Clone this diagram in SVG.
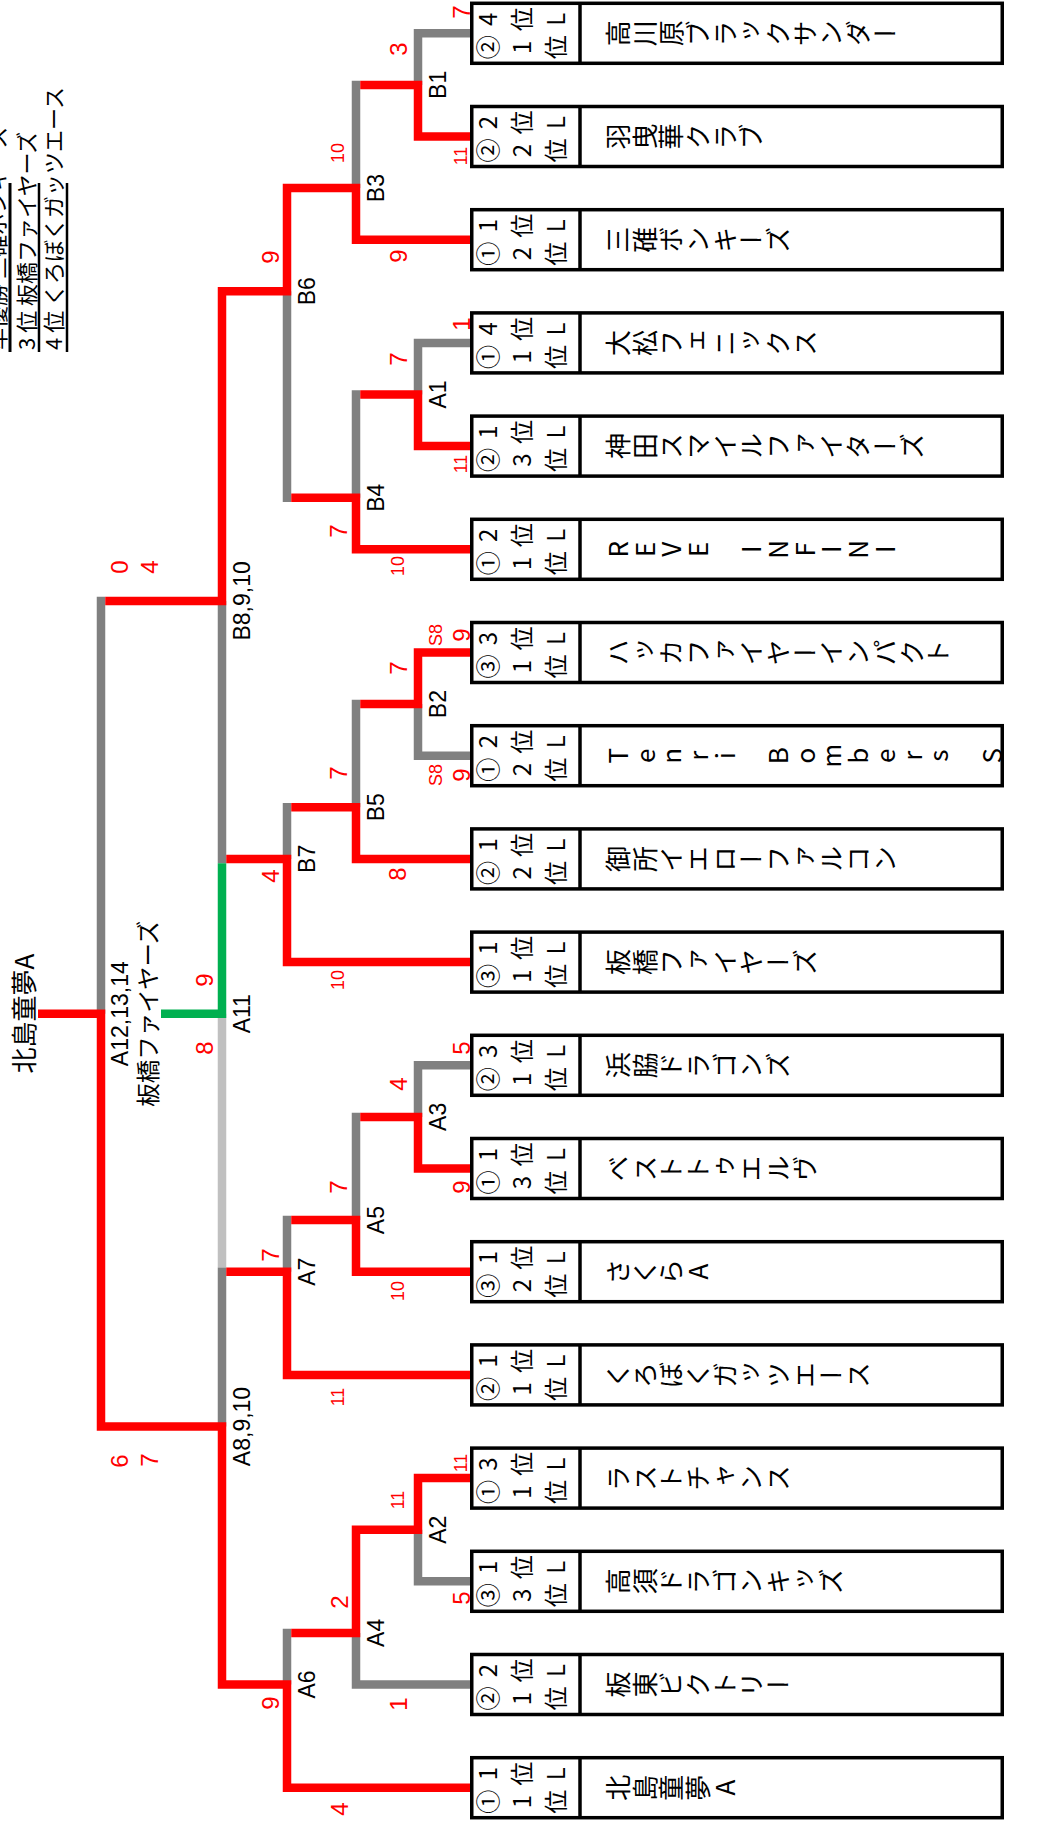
<svg xmlns="http://www.w3.org/2000/svg" width="1037" height="1827" viewBox="0 0 1037 1827">
<style>
.ln{fill:none;stroke-width:8.5;stroke-linecap:butt}
.r{stroke:#ff0000}.g{stroke:#808080}.lg{stroke:#c0c0c0}.gr{stroke:#00b050}
.bx{fill:#fff;stroke:#000;stroke-width:3.5}
.dv{stroke:#000;stroke-width:3.5}
.sd{font-family:"Noto Sans CJK JP",sans-serif;font-size:24px;letter-spacing:10px;writing-mode:vertical-rl;text-orientation:upright;fill:#000}
.nm{font-family:"Noto Sans CJK JP",sans-serif;font-size:26px;letter-spacing:0.7px;writing-mode:vertical-rl;text-orientation:upright;fill:#000}
.sc{font-family:"Liberation Sans",sans-serif;font-size:24px;fill:#ff0000;text-anchor:middle}
.sc2{font-family:"Liberation Sans",sans-serif;font-size:18px;fill:#ff0000;text-anchor:middle}
.lb{font-family:"Liberation Sans",sans-serif;font-size:23px;fill:#000;text-anchor:middle}
.jp{font-family:"Noto Sans CJK JP",sans-serif;fill:#000}
.lgl{stroke:#000;fill:none}
</style>

<g id="legend">
<line class="lgl" x1="10" y1="183" x2="10" y2="352" stroke-width="3"/>
<line class="lgl" x1="39" y1="183" x2="39" y2="352" stroke-width="2.5"/>
<line class="lgl" x1="67" y1="183" x2="67" y2="352" stroke-width="2.5"/>
<text class="jp" font-size="22" transform="translate(5 350) rotate(-90)">準優勝 三碓ボンキーズ</text>
<text class="jp" font-size="22" transform="translate(35 350) rotate(-90)">3 位 板橋ファイヤーズ</text>
<text class="jp" font-size="22" transform="translate(62 350) rotate(-90)">4 位 くろぼくガッツエース</text>
</g>

<g id="connectors">
<path class="ln lg" d="M222 1013.7V1267.45"/>
<path class="ln g" d="M418 29.05V84.9M418 338.65V394.5M418 704.1V759.95M418 1061.05V1116.9M418 1529.7V1585.55
M356 80.65V188.1M356 390.25V497.7M356 699.85V807.3M356 1112.65V1220.1M356 1632.9V1688.75
M287 291.3V501.95M287 803.05V858.9M287 1215.85V1271.7M287 1628.65V1684.5
M222 600.9V863.15M222 1267.45V1426.5M101 596.65V1013.7
M422.25 33.3H470M422.25 342.9H470M422.25 755.7H470M422.25 1065.3H470M422.25 1581.3H470M360.25 1684.5H470"/>
<path class="ln gr" d="M222 863.15V1013.7M161 1013.7H226.25"/>
<path class="ln r" d="M418 84.9V140.75M418 394.5V450.35M418 648.25V704.1M418 1116.9V1172.75M418 1473.85V1529.7
M356 188.1V243.95M356 497.7V553.55M356 807.3V863.15M356 1220.1V1275.95M356 1525.45V1632.9
M287 183.85V291.3M287 858.9V966.35M287 1271.7V1379.15M287 1684.5V1791.95
M222 287.05V600.9M222 1426.5V1688.75M101 1013.7V1430.75
M422.25 136.5H470M360.25 239.7H470M422.25 446.1H470M360.25 549.3H470M422.25 652.5H470M360.25 858.9H470
M291.25 962.1H470M422.25 1168.5H470M360.25 1271.7H470M291.25 1374.9H470M422.25 1478.1H470M291.25 1787.7H470
M360.25 84.9H422.25M360.25 394.5H422.25M360.25 704.1H422.25M360.25 1116.9H422.25M360.25 1529.7H422.25
M291.25 188.1H360.25M291.25 497.7H360.25M291.25 807.3H360.25M291.25 1220.1H360.25M291.25 1632.9H360.25
M226.25 291.3H291.25M226.25 858.9H291.25M226.25 1271.7H291.25M226.25 1684.5H291.25
M105.25 600.9H226.25M105.25 1426.5H226.25M38 1013.7H105.25"/>
</g>

<g id="match-labels">
<text class="lb" transform="translate(445.5 84.9) rotate(-90)">B1</text>
<text class="lb" transform="translate(445.5 394.5) rotate(-90)">A1</text>
<text class="lb" transform="translate(445.5 704.1) rotate(-90)">B2</text>
<text class="lb" transform="translate(445.5 1116.9) rotate(-90)">A3</text>
<text class="lb" transform="translate(445.5 1529.7) rotate(-90)">A2</text>
<text class="lb" transform="translate(383.5 188.1) rotate(-90)">B3</text>
<text class="lb" transform="translate(383.5 497.7) rotate(-90)">B4</text>
<text class="lb" transform="translate(383.5 807.3) rotate(-90)">B5</text>
<text class="lb" transform="translate(383.5 1220.1) rotate(-90)">A5</text>
<text class="lb" transform="translate(383.5 1632.9) rotate(-90)">A4</text>
<text class="lb" transform="translate(314.5 291.3) rotate(-90)">B6</text>
<text class="lb" transform="translate(314.5 858.9) rotate(-90)">B7</text>
<text class="lb" transform="translate(314.5 1271.7) rotate(-90)">A7</text>
<text class="lb" transform="translate(314.5 1684.5) rotate(-90)">A6</text>
<text class="lb" transform="translate(249.5 600.9) rotate(-90)">B8,9,10</text>
<text class="lb" transform="translate(249.5 1013.7) rotate(-90)">A11</text>
<text class="lb" transform="translate(249.5 1426.5) rotate(-90)">A8,9,10</text>
<text class="lb" font-size="20" transform="translate(128 1013.7) rotate(-90)">A12,13,14</text>
<text class="jp" font-size="23.5" text-anchor="middle" transform="translate(157 1013.7) rotate(-90)">板橋ファイヤーズ</text>
<text class="jp" font-size="26" text-anchor="middle" transform="translate(34 1013.7) rotate(-90)">北島童夢A</text>
</g>

<g id="scores">
<text class="sc" transform="translate(469.6 12) rotate(-90)">7</text>
<text class="sc" transform="translate(406.6 49) rotate(-90)">3</text>
<text class="sc2" transform="translate(467.4 156) rotate(-90)">11</text>
<text class="sc2" transform="translate(344.4 153) rotate(-90)">10</text>
<text class="sc" transform="translate(278.6 257) rotate(-90)">9</text>
<text class="sc" transform="translate(406.6 256) rotate(-90)">9</text>
<text class="sc" transform="translate(469.6 324) rotate(-90)">1</text>
<text class="sc" transform="translate(406.6 359) rotate(-90)">7</text>
<text class="sc2" transform="translate(467.4 464) rotate(-90)">11</text>
<text class="sc" transform="translate(346.6 531) rotate(-90)">7</text>
<text class="sc2" transform="translate(404.4 566) rotate(-90)">10</text>
<text class="sc" transform="translate(127.6 567) rotate(-90)">0</text>
<text class="sc" transform="translate(157.6 567) rotate(-90)">4</text>
<text class="sc2" transform="translate(442.4 635) rotate(-90)">S8</text>
<text class="sc" transform="translate(469.6 635) rotate(-90)">9</text>
<text class="sc" transform="translate(406.6 668) rotate(-90)">7</text>
<text class="sc2" transform="translate(442.4 775) rotate(-90)">S8</text>
<text class="sc" transform="translate(469.6 775) rotate(-90)">9</text>
<text class="sc" transform="translate(346.6 773) rotate(-90)">7</text>
<text class="sc" transform="translate(405.6 874) rotate(-90)">8</text>
<text class="sc" transform="translate(278.6 876) rotate(-90)">4</text>
<text class="sc2" transform="translate(344.4 980) rotate(-90)">10</text>
<text class="sc" transform="translate(212.6 980) rotate(-90)">9</text>
<text class="sc" transform="translate(212.6 1048) rotate(-90)">8</text>
<text class="sc" transform="translate(469.6 1048) rotate(-90)">5</text>
<text class="sc" transform="translate(406.6 1084) rotate(-90)">4</text>
<text class="sc" transform="translate(469.6 1187) rotate(-90)">9</text>
<text class="sc" transform="translate(346.6 1187) rotate(-90)">7</text>
<text class="sc" transform="translate(278.6 1255) rotate(-90)">7</text>
<text class="sc2" transform="translate(404.4 1291) rotate(-90)">10</text>
<text class="sc2" transform="translate(344.4 1397) rotate(-90)">11</text>
<text class="sc" transform="translate(127.6 1461) rotate(-90)">6</text>
<text class="sc" transform="translate(157.6 1460) rotate(-90)">7</text>
<text class="sc2" transform="translate(467.4 1463) rotate(-90)">11</text>
<text class="sc2" transform="translate(404.4 1500) rotate(-90)">11</text>
<text class="sc" transform="translate(469.6 1598) rotate(-90)">5</text>
<text class="sc" transform="translate(347.6 1602) rotate(-90)">2</text>
<text class="sc" transform="translate(406.6 1704) rotate(-90)">1</text>
<text class="sc" transform="translate(278.6 1703) rotate(-90)">9</text>
<text class="sc" transform="translate(347.6 1809) rotate(-90)">4</text>
</g>

<g id="team-0"><rect class="bx" x="471.75" y="3.3" width="530.5" height="60"/><line class="dv" x1="580" y1="3.3" x2="580" y2="63.3"/>
<text class="sd" transform="translate(476 19.3) rotate(-90)">4位L</text><text class="sd" transform="translate(476 47.3) rotate(-90)">②1位</text>
<text class="nm" transform="translate(605 33.3) rotate(-90)">高川原ブラックサンダー</text></g>
<g id="team-1"><rect class="bx" x="471.75" y="106.5" width="530.5" height="60"/><line class="dv" x1="580" y1="106.5" x2="580" y2="166.5"/>
<text class="sd" transform="translate(476 122.5) rotate(-90)">2位L</text><text class="sd" transform="translate(476 150.5) rotate(-90)">②2位</text>
<text class="nm" transform="translate(605 136.5) rotate(-90)">羽曳華クラブ</text></g>
<g id="team-2"><rect class="bx" x="471.75" y="209.7" width="530.5" height="60"/><line class="dv" x1="580" y1="209.7" x2="580" y2="269.7"/>
<text class="sd" transform="translate(476 225.7) rotate(-90)">1位L</text><text class="sd" transform="translate(476 253.7) rotate(-90)">①2位</text>
<text class="nm" transform="translate(605 239.7) rotate(-90)">三碓ボンキーズ</text></g>
<g id="team-3"><rect class="bx" x="471.75" y="312.9" width="530.5" height="60"/><line class="dv" x1="580" y1="312.9" x2="580" y2="372.9"/>
<text class="sd" transform="translate(476 328.9) rotate(-90)">4位L</text><text class="sd" transform="translate(476 356.9) rotate(-90)">①1位</text>
<text class="nm" transform="translate(605 342.9) rotate(-90)">大松フェニックス</text></g>
<g id="team-4"><rect class="bx" x="471.75" y="416.1" width="530.5" height="60"/><line class="dv" x1="580" y1="416.1" x2="580" y2="476.1"/>
<text class="sd" transform="translate(476 432.1) rotate(-90)">1位L</text><text class="sd" transform="translate(476 460.1) rotate(-90)">②3位</text>
<text class="nm" transform="translate(605 446.1) rotate(-90)">神田スマイルファイターズ</text></g>
<g id="team-5"><rect class="bx" x="471.75" y="519.3" width="530.5" height="60"/><line class="dv" x1="580" y1="519.3" x2="580" y2="579.3"/>
<text class="sd" transform="translate(476 535.3) rotate(-90)">2位L</text><text class="sd" transform="translate(476 563.3) rotate(-90)">①1位</text>
<text class="nm" transform="translate(605 549.3) rotate(-90)">REVE INFINI</text></g>
<g id="team-6"><rect class="bx" x="471.75" y="622.5" width="530.5" height="60"/><line class="dv" x1="580" y1="622.5" x2="580" y2="682.5"/>
<text class="sd" transform="translate(476 638.5) rotate(-90)">3位L</text><text class="sd" transform="translate(476 666.5) rotate(-90)">③1位</text>
<text class="nm" transform="translate(605 652.5) rotate(-90)">ハッカファイヤーインパクト</text></g>
<g id="team-7"><rect class="bx" x="471.75" y="725.7" width="530.5" height="60"/><line class="dv" x1="580" y1="725.7" x2="580" y2="785.7"/>
<text class="sd" transform="translate(476 741.7) rotate(-90)">2位L</text><text class="sd" transform="translate(476 769.7) rotate(-90)">①2位</text>
<text class="nm" transform="translate(605 755.7) rotate(-90)">Tenri Bombers S</text></g>
<g id="team-8"><rect class="bx" x="471.75" y="828.9" width="530.5" height="60"/><line class="dv" x1="580" y1="828.9" x2="580" y2="888.9"/>
<text class="sd" transform="translate(476 844.9) rotate(-90)">1位L</text><text class="sd" transform="translate(476 872.9) rotate(-90)">②2位</text>
<text class="nm" transform="translate(605 858.9) rotate(-90)">御所イエローファルコン</text></g>
<g id="team-9"><rect class="bx" x="471.75" y="932.1" width="530.5" height="60"/><line class="dv" x1="580" y1="932.1" x2="580" y2="992.1"/>
<text class="sd" transform="translate(476 948.1) rotate(-90)">1位L</text><text class="sd" transform="translate(476 976.1) rotate(-90)">③1位</text>
<text class="nm" transform="translate(605 962.1) rotate(-90)">板橋ファイヤーズ</text></g>
<g id="team-10"><rect class="bx" x="471.75" y="1035.3" width="530.5" height="60"/><line class="dv" x1="580" y1="1035.3" x2="580" y2="1095.3"/>
<text class="sd" transform="translate(476 1051.3) rotate(-90)">3位L</text><text class="sd" transform="translate(476 1079.3) rotate(-90)">②1位</text>
<text class="nm" transform="translate(605 1065.3) rotate(-90)">浜脇ドラゴンズ</text></g>
<g id="team-11"><rect class="bx" x="471.75" y="1138.5" width="530.5" height="60"/><line class="dv" x1="580" y1="1138.5" x2="580" y2="1198.5"/>
<text class="sd" transform="translate(476 1154.5) rotate(-90)">1位L</text><text class="sd" transform="translate(476 1182.5) rotate(-90)">①3位</text>
<text class="nm" transform="translate(605 1168.5) rotate(-90)">ベストトゥエルヴ</text></g>
<g id="team-12"><rect class="bx" x="471.75" y="1241.7" width="530.5" height="60"/><line class="dv" x1="580" y1="1241.7" x2="580" y2="1301.7"/>
<text class="sd" transform="translate(476 1257.7) rotate(-90)">1位L</text><text class="sd" transform="translate(476 1285.7) rotate(-90)">③2位</text>
<text class="nm" transform="translate(605 1271.7) rotate(-90)">さくらA</text></g>
<g id="team-13"><rect class="bx" x="471.75" y="1344.9" width="530.5" height="60"/><line class="dv" x1="580" y1="1344.9" x2="580" y2="1404.9"/>
<text class="sd" transform="translate(476 1360.9) rotate(-90)">1位L</text><text class="sd" transform="translate(476 1388.9) rotate(-90)">②1位</text>
<text class="nm" transform="translate(605 1374.9) rotate(-90)">くろぼくガッツエース</text></g>
<g id="team-14"><rect class="bx" x="471.75" y="1448.1" width="530.5" height="60"/><line class="dv" x1="580" y1="1448.1" x2="580" y2="1508.1"/>
<text class="sd" transform="translate(476 1464.1) rotate(-90)">3位L</text><text class="sd" transform="translate(476 1492.1) rotate(-90)">①1位</text>
<text class="nm" transform="translate(605 1478.1) rotate(-90)">ラストチャンス</text></g>
<g id="team-15"><rect class="bx" x="471.75" y="1551.3" width="530.5" height="60"/><line class="dv" x1="580" y1="1551.3" x2="580" y2="1611.3"/>
<text class="sd" transform="translate(476 1567.3) rotate(-90)">1位L</text><text class="sd" transform="translate(476 1595.3) rotate(-90)">③3位</text>
<text class="nm" transform="translate(605 1581.3) rotate(-90)">高須ドラゴンキッズ</text></g>
<g id="team-16"><rect class="bx" x="471.75" y="1654.5" width="530.5" height="60"/><line class="dv" x1="580" y1="1654.5" x2="580" y2="1714.5"/>
<text class="sd" transform="translate(476 1670.5) rotate(-90)">2位L</text><text class="sd" transform="translate(476 1698.5) rotate(-90)">②1位</text>
<text class="nm" transform="translate(605 1684.5) rotate(-90)">板東ビクトリー</text></g>
<g id="team-17"><rect class="bx" x="471.75" y="1757.7" width="530.5" height="60"/><line class="dv" x1="580" y1="1757.7" x2="580" y2="1817.7"/>
<text class="sd" transform="translate(476 1773.7) rotate(-90)">1位L</text><text class="sd" transform="translate(476 1801.7) rotate(-90)">①1位</text>
<text class="nm" transform="translate(605 1787.7) rotate(-90)">北島童夢A</text></g>
</svg>
